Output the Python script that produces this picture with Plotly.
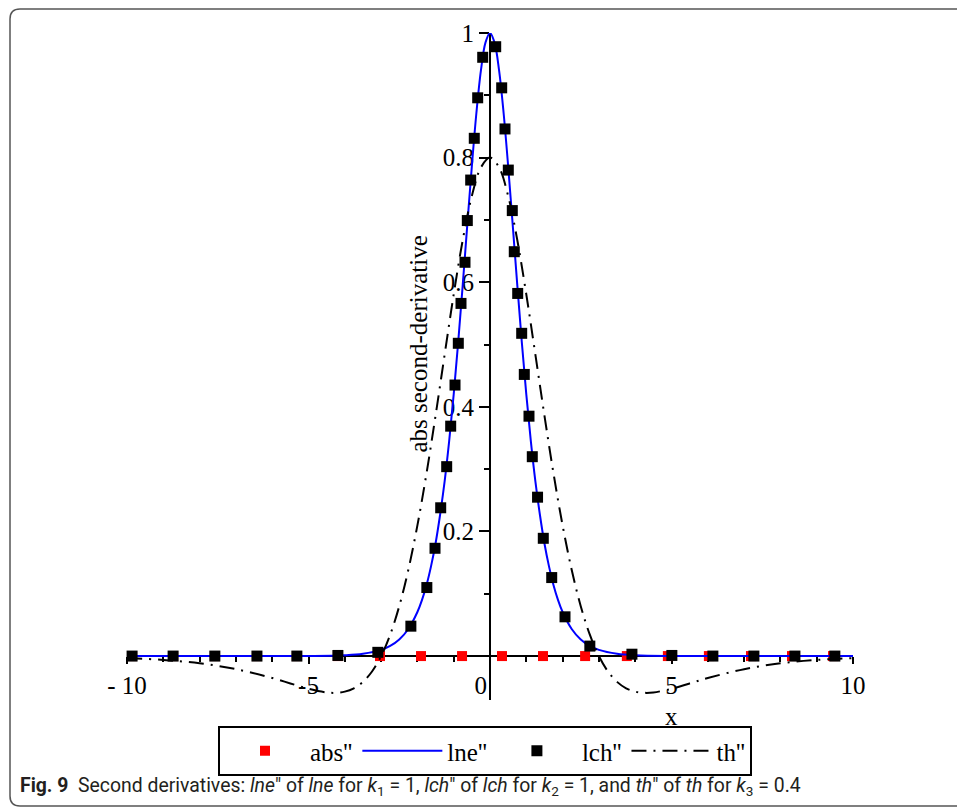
import plotly.graph_objects as go

# ---------------- data ----------------
# abs'' : plotted points (all zero)
abs_x = [-9.86, -8.73, -7.58, -6.42, -5.32, -4.19, -3.03, -1.90, -0.77,
         0.33, 1.46, 2.62, 3.77, 4.90, 6.03, 7.19, 8.32, 9.45]
abs_y = [0.0] * 18

# lne'' : continuous blue curve
lne_x = [-10, -8, -6, -5, -4, -3.5, -3, -2.75, -2.5, -2.25, -2, -1.875, -1.75,
         -1.625, -1.5, -1.375, -1.25, -1.125, -1, -0.875, -0.75, -0.625, -0.5,
         -0.375, -0.25, -0.125, 0, 0.125, 0.25, 0.375, 0.5, 0.625, 0.75, 0.875,
         1, 1.125, 1.25, 1.375, 1.5, 1.625, 1.75, 1.875, 2, 2.25, 2.5, 2.75, 3,
         3.5, 4, 5, 6, 8, 10]
lne_y = [0.0, 0.0, 0.00002, 0.00018, 0.00134, 0.00364, 0.00987, 0.0162, 0.0266,
         0.0435, 0.0707, 0.0898, 0.1138, 0.1440, 0.1807, 0.2268, 0.2804, 0.3449,
         0.4200, 0.5046, 0.5966, 0.6924, 0.7864, 0.8716, 0.9400, 0.9845, 1.0,
         0.9845, 0.9400, 0.8716, 0.7864, 0.6924, 0.5966, 0.5046, 0.4200, 0.3449,
         0.2804, 0.2268, 0.1807, 0.1440, 0.1138, 0.0898, 0.0707, 0.0435, 0.0266,
         0.0162, 0.00987, 0.00364, 0.00134, 0.00018, 0.00002, 0.0, 0.0]

# lch'' : plotted points (black squares)
lch_x = [-9.86, -8.73, -7.58, -6.42, -5.32, -4.19, -3.09, -2.18, -1.74, -1.515,
         -1.358, -1.193, -1.083, -0.964, -0.873, -0.799, -0.689, -0.625, -0.532,
         -0.433, -0.339, -0.201, 0.157, 0.322, 0.413, 0.504, 0.614, 0.669, 0.763,
         0.873, 0.945, 1.074, 1.165, 1.31, 1.468, 1.70, 2.066, 2.75, 3.91, 5.01,
         6.14, 7.27, 8.40, 9.50]
lch_y = [0.0, 0.0, 0.0, 0.0, 0.0, 0.001, 0.006, 0.048, 0.110, 0.173, 0.238,
         0.304, 0.369, 0.435, 0.502, 0.566, 0.632, 0.699, 0.764, 0.831, 0.896,
         0.961, 0.978, 0.912, 0.846, 0.780, 0.715, 0.649, 0.582, 0.518, 0.452,
         0.385, 0.320, 0.255, 0.189, 0.126, 0.063, 0.016, 0.003, 0.001, 0.0,
         0.0, 0.0, 0.0]

# th'' : dash-dot curve
th_x = [-10, -9, -8, -7, -6, -5.5, -5, -4.5, -4.25, -4, -3.75, -3.5, -3.25, -3,
        -2.75, -2.5, -2.25, -2, -1.75, -1.5, -1.25, -1, -0.75, -0.5, -0.25, 0,
        0.25, 0.5, 0.75, 1, 1.25, 1.5, 1.75, 2, 2.25, 2.5, 2.75, 3, 3.25, 3.5,
        3.75, 4, 4.25, 4.5, 5, 5.5, 6, 7, 8, 9, 10]
th_y = [-0.0032, -0.0062, -0.0116, -0.0210, -0.0352, -0.0439, -0.0525, -0.0584,
        -0.0590, -0.0571, -0.0517, -0.0414, -0.0248, -0.0001, 0.0343, 0.0801,
        0.1384, 0.2097, 0.2929, 0.3859, 0.4838, 0.5805, 0.6681, 0.7385, 0.7842,
        0.8, 0.7842, 0.7385, 0.6681, 0.5805, 0.4838, 0.3859, 0.2929, 0.2097,
        0.1384, 0.0801, 0.0343, -0.0001, -0.0248, -0.0414, -0.0517, -0.0571,
        -0.0590, -0.0584, -0.0525, -0.0439, -0.0352, -0.0210, -0.0116, -0.0062,
        -0.0032]

x_tickvals = [-10, -5, 0, 5, 10]
x_ticktext = ["- 10", "-5", "0\u00a0\u00a0\u00a0", "5", "10"]
y_tickvals = [0.2, 0.4, 0.6, 0.8, 1.0]
y_ticktext = ["0.2", "0.4", "0.6", "0.8", "1"]

names = ["abs''", "lne''", "lch''", "th''"]

# ---------------- layout geometry ----------------
W, H = 957, 808
ML, MR, MT, MB = 127, 104, 33, 108
XR = [-10, 10]
YR = [-0.0705, 1.0]
PW = W - ML - MR
PH = H - MT - MB


def px(p):  # pixel x -> paper
    return (p - ML) / PW


def py(p):  # pixel y -> paper
    return (H - MB - p) / PH


SERIF = "Liberation Serif, Times New Roman, serif"

fig = go.Figure()
fig.add_trace(go.Scatter(x=abs_x, y=abs_y, mode="markers", name=names[0],
                         marker=dict(symbol="square", size=10, color="#ff0000"),
                         cliponaxis=False))
fig.add_trace(go.Scatter(x=lne_x, y=lne_y, mode="lines", name=names[1],
                         line=dict(color="#0000ff", width=2, shape="spline"),
                         cliponaxis=False))
fig.add_trace(go.Scatter(x=lch_x, y=lch_y, mode="markers", name=names[2],
                         marker=dict(symbol="square", size=11, color="#000000"),
                         cliponaxis=False))
fig.add_trace(go.Scatter(x=th_x, y=th_y, mode="lines", name=names[3],
                         line=dict(color="#000000", width=2, shape="spline",
                                   dash="15px,7px,2px,7px"),
                         cliponaxis=False))

x_axis_pos = (0 - YR[0]) / (YR[1] - YR[0])

fig.update_layout(
    width=W, height=H,
    margin=dict(l=ML, r=MR, t=MT, b=MB),
    paper_bgcolor="white", plot_bgcolor="white",
    font=dict(family=SERIF, color="black"),
    xaxis=dict(range=XR, anchor="free", position=x_axis_pos,
               showgrid=False, zeroline=False, showline=True,
               linecolor="black", linewidth=2, layer="below traces",
               tickmode="array", tickvals=x_tickvals, ticktext=x_ticktext,
               ticks="outside", ticklen=7, tickwidth=2, tickcolor="black",
               tickfont=dict(family=SERIF, size=25),
               minor=dict(tickmode="linear", tick0=0, dtick=1, ticks="outside",
                          ticklen=5, tickwidth=1.5, tickcolor="black")),
    yaxis=dict(range=YR, anchor="free", position=0.5,
               showgrid=False, zeroline=False, showline=True,
               linecolor="black", linewidth=2, layer="below traces",
               tickmode="array", tickvals=y_tickvals, ticktext=y_ticktext,
               ticks="outside", ticklen=10, tickwidth=2, tickcolor="black",
               tickfont=dict(family=SERIF, size=25),
               minor=dict(tickmode="linear", tick0=0, dtick=0.1, ticks="outside",
                          ticklen=5, tickwidth=1.5, tickcolor="black")),
    showlegend=True,
    legend=dict(orientation="h", x=px(218), xanchor="left", y=py(726),
                yanchor="top", bordercolor="black", borderwidth=2,
                bgcolor="white", font=dict(family=SERIF, size=25),
                itemwidth=80, tracegroupgap=0),
)

# axis titles
fig.add_annotation(text="x", xref="x", x=5, yref="paper", y=py(716),
                   showarrow=False, font=dict(family=SERIF, size=25),
                   xanchor="center", yanchor="middle")
fig.add_annotation(text="abs second-derivative", xref="paper", x=px(419),
                   yref="y", y=0.5, textangle=-90, showarrow=False,
                   font=dict(family=SERIF, size=25),
                   xanchor="center", yanchor="middle")

# caption
caption = ("<b>Fig. 9</b>\u00a0\u00a0Second derivatives: <i>lne</i>\u2033 of <i>lne</i> for "
           "<i>k</i><sub>1</sub> = 1, <i>lch</i>\u2033 of <i>lch</i> for "
           "<i>k</i><sub>2</sub> = 1, and <i>th</i>\u2033 of <i>th</i> for "
           "<i>k</i><sub>3</sub> = 0.4")
fig.add_annotation(text=caption, xref="paper", x=px(18), yref="paper", y=py(787),
                   xanchor="left", yanchor="middle", showarrow=False,
                   font=dict(family="Roboto, Liberation Sans, sans-serif",
                             size=19.4, color="#231f20"))

# figure frame (rounded)
r = 10
x0, y0 = 10, 9
x1, y1 = 980, 806
path = (f"M {px(x1)},{py(y0)} L {px(x0 + r)},{py(y0)} "
        f"Q {px(x0)},{py(y0)} {px(x0)},{py(y0 + r)} "
        f"L {px(x0)},{py(y1 - r)} Q {px(x0)},{py(y1)} {px(x0 + r)},{py(y1)} "
        f"L {px(x1)},{py(y1)}")
fig.add_shape(type="path", path=path, xref="paper", yref="paper",
              line=dict(color="#555555", width=1.5), layer="below")

fig.write_html("out.html",
               config={"displayModeBar": False},
               post_script="document.body.style.margin='0';"
                           "document.body.style.overflow='hidden';")
